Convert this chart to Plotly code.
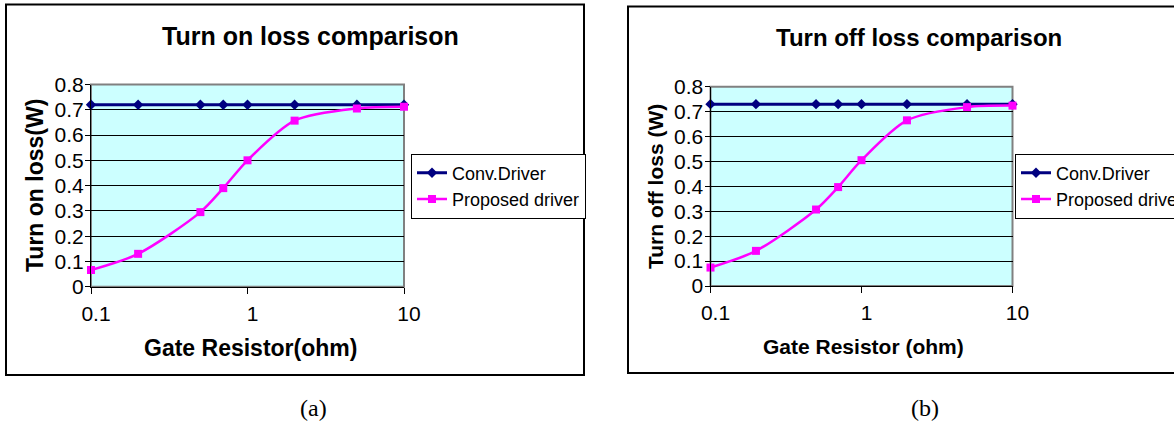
import plotly.graph_objects as go

# Gate resistor values (ohm)
gate_r = [0.1, 0.2, 0.5, 0.7, 1, 2, 5, 10]

# Turn-on loss (W)
on_conv = [0.72, 0.72, 0.72, 0.72, 0.72, 0.72, 0.72, 0.72]
on_prop = [0.066, 0.13, 0.295, 0.39, 0.50, 0.657, 0.705, 0.712]

# Turn-off loss (W)
off_conv = [0.73, 0.73, 0.73, 0.73, 0.73, 0.73, 0.73, 0.73]
off_prop = [0.074, 0.141, 0.307, 0.397, 0.505, 0.665, 0.718, 0.724]

x_ticks = [0.1, 1, 10]
x_ticktext = ["0.1", "1", "10"]
y_ticks = [0, 0.1, 0.2, 0.3, 0.4, 0.5, 0.6, 0.7, 0.8]
y_ticktext = ["0", "0.1", "0.2", "0.3", "0.4", "0.5", "0.6", "0.7", "0.8"]

W, H = 1174, 425
FONT = "Liberation Sans, Arial, sans-serif"
SERIF = "Liberation Serif, Times New Roman, serif"
NAVY = "#000080"
MAGENTA = "#FF00FF"


def px(x):
    return x / W


def py(y):
    return 1 - y / H


fig = go.Figure()


def add_series(conv, prop, xa, ya, legend):
    fig.add_trace(go.Scatter(
        x=gate_r, y=conv, name="Conv.Driver", mode="lines+markers",
        line=dict(color=NAVY, width=3),
        marker=dict(symbol="diamond", size=8, color=NAVY),
        xaxis=xa, yaxis=ya, legend=legend, cliponaxis=False,
    ))
    fig.add_trace(go.Scatter(
        x=gate_r, y=prop, name="Proposed driver", mode="lines+markers",
        line=dict(color=MAGENTA, width=2.5, shape="spline", smoothing=0.8),
        marker=dict(symbol="square", size=8, color=MAGENTA),
        xaxis=xa, yaxis=ya, legend=legend, cliponaxis=False,
    ))


add_series(on_conv, on_prop, "x", "y", "legend")
add_series(off_conv, off_prop, "x2", "y2", "legend2")


def xaxis_cfg(domain, size):
    return dict(
        domain=domain, type="log", range=[-1, 1],
        tickvals=x_ticks, ticktext=x_ticktext,
        showline=True, linecolor="black", linewidth=1,
        ticks="outside", ticklen=6, tickcolor="black",
        ticklabelstandoff=2, ticklabelshift=5,
        showgrid=False, zeroline=False,
        tickfont=dict(family=FONT, size=size, color="black"),
    )


def yaxis_cfg(domain, anchor, size):
    return dict(
        domain=domain, anchor=anchor, range=[0, 0.8],
        tickvals=y_ticks, ticktext=y_ticktext,
        showline=True, linecolor="black", linewidth=1,
        ticks="outside", ticklen=5, tickcolor="black",
        ticklabelstandoff=-3,
        showgrid=True, gridcolor="black", gridwidth=1,
        zeroline=False,
        tickfont=dict(family=FONT, size=size, color="black"),
    )


left_x = [px(91), px(404)]
left_y = [py(286.7), py(84.5)]
right_x = [px(710.5), px(1012.5)]
right_y = [py(286), py(86.7)]

shapes = [
    # chart frames
    dict(type="rect", xref="paper", yref="paper",
         x0=px(6), x1=px(584), y0=py(375), y1=py(4.5),
         line=dict(color="black", width=2), layer="below"),
    dict(type="rect", xref="paper", yref="paper",
         x0=px(628), x1=px(1180), y0=py(373), y1=py(6.5),
         line=dict(color="black", width=2), layer="below"),
    # grey plot-area borders
    dict(type="rect", xref="x domain", yref="y domain", x0=0, x1=1, y0=0, y1=1,
         line=dict(color="#808080", width=2), layer="below"),
    dict(type="rect", xref="x2 domain", yref="y2 domain", x0=0, x1=1, y0=0, y1=1,
         line=dict(color="#808080", width=2), layer="below"),
]


def text(x, y, s, size, bold=False, angle=0, family=FONT):
    return dict(
        x=px(x), y=py(y), xref="paper", yref="paper",
        text=f"<b>{s}</b>" if bold else s, showarrow=False,
        xanchor="center", yanchor="middle", textangle=angle,
        font=dict(family=family, size=size, color="black"),
    )


annotations = [
    text(310, 36, "Turn on loss comparison", 25, bold=True),
    text(250, 348, "Gate Resistor(ohm)", 23, bold=True),
    text(35, 186, "Turn on loss(W)", 23, bold=True, angle=-90),
    text(919, 38, "Turn off loss comparison", 24, bold=True),
    text(863, 346, "Gate Resistor (ohm)", 21, bold=True),
    text(656, 187, "Turn off loss (W)", 21, bold=True, angle=-90),
    text(313, 408, "(a)", 24, family=SERIF),
    text(925, 408, "(b)", 24, family=SERIF),
]

legend_common = dict(
    xanchor="left", yanchor="middle", bgcolor="white",
    bordercolor="black", borderwidth=1,
    tracegroupgap=0, itemwidth=30,
)

fig.update_layout(
    width=W, height=H,
    margin=dict(l=0, r=0, t=0, b=0, autoexpand=False),
    paper_bgcolor="white", plot_bgcolor="#CCFFFF",
    showlegend=True,
    xaxis=xaxis_cfg(left_x, 21) | dict(anchor="y"),
    yaxis=yaxis_cfg(left_y, "x", 21),
    xaxis2=xaxis_cfg(right_x, 21) | dict(anchor="y2"),
    yaxis2=yaxis_cfg(right_y, "x2", 21),
    legend=legend_common | dict(
        x=px(411), y=py(186),
        font=dict(family=FONT, size=18, color="black")),
    legend2=legend_common | dict(
        x=px(1015), y=py(186),
        font=dict(family=FONT, size=18, color="black")),
    shapes=shapes,
    annotations=annotations,
)

fig.write_html("out.html")
